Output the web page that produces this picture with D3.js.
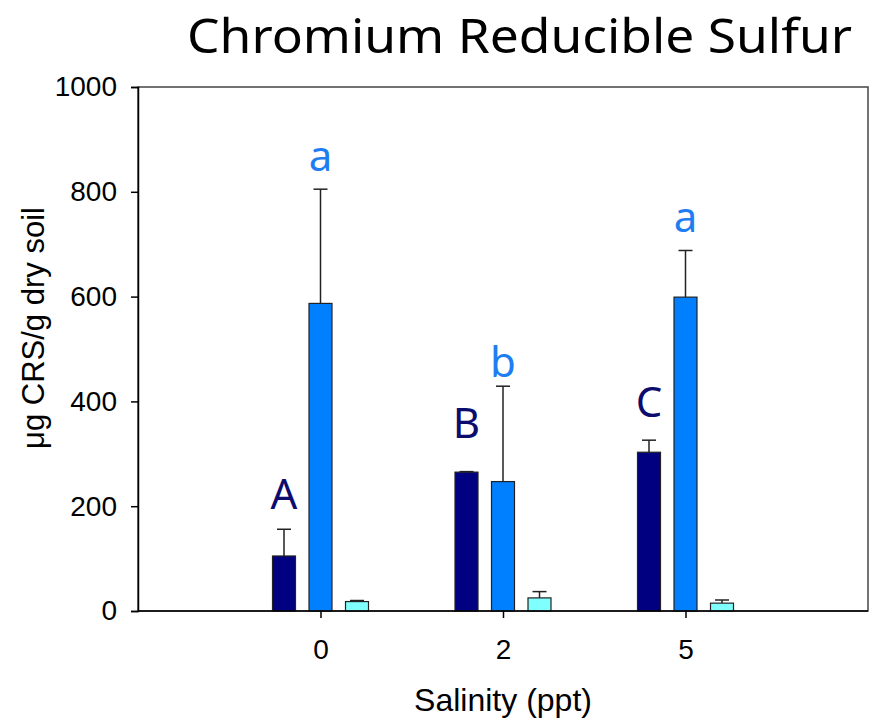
<!DOCTYPE html>
<html>
<head>
<meta charset="utf-8">
<script src="https://cdn.jsdelivr.net/npm/d3@7"></script>
<style>
  body { margin: 0; background: #fff; }
  svg { display: block; }
</style>
</head>
<body>
<svg id="chart" width="875" height="723"></svg>
<script>
// data
const salinity = ["0", "2", "5"];
const series = ["s1", "s2", "s3"];
const dark = [105, 265, 303];
const darkErr = [51, 1, 23];
const mid = [587, 247, 599];
const midErr = [218, 182, 89];
const light = [18, 25, 15];
const lightErr = [2, 12, 6];
// significance letters and the value height they sit at
const upperLetters = ["A", "B", "C"];
const upperAt = [194, 331, 370];
const lowerLetters = ["a", "b", "a"];
const lowerAt = [840, 446, 724];
const yTicks = [0, 200, 400, 600, 800, 1000];

const colors = ["#000080", "#0080ff", "#80ffff"];

const svg = d3.select("#chart");
const plotL = 138, plotR = 868, plotT = 87, plotB = 611;

const x = d3.scalePoint().domain(salinity).range([plotL, plotR]).padding(1);
const inner = d3.scaleBand().domain(series).range([-54.75, 54.75])
  .paddingInner(0.37).paddingOuter(0.185);
const y = d3.scaleLinear().domain([0, 1000]).range([plotB, plotT]);

const rows = [];
salinity.forEach((s, i) => {
  [dark, mid, light].forEach((vals, j) => {
    const errs = [darkErr, midErr, lightErr][j];
    rows.push({ cat: s, ser: series[j], v: vals[i], e: errs[i], c: colors[j] });
  });
});

// frame
svg.append("rect")
  .attr("x", plotL).attr("y", plotT)
  .attr("width", plotR - plotL).attr("height", plotB - plotT)
  .attr("fill", "none").attr("stroke", "#444").attr("stroke-width", 1.5);

// error bars (upper only)
const eb = svg.append("g").attr("stroke", "#222").attr("stroke-width", 1.5);
eb.selectAll("line.v").data(rows).join("line")
  .attr("x1", d => x(d.cat) + inner(d.ser) + inner.bandwidth() / 2)
  .attr("x2", d => x(d.cat) + inner(d.ser) + inner.bandwidth() / 2)
  .attr("y1", d => y(d.v)).attr("y2", d => y(d.v + d.e));
eb.selectAll("line.cap").data(rows).join("line")
  .attr("x1", d => x(d.cat) + inner(d.ser) + inner.bandwidth() / 2 - 7)
  .attr("x2", d => x(d.cat) + inner(d.ser) + inner.bandwidth() / 2 + 7)
  .attr("y1", d => y(d.v + d.e)).attr("y2", d => y(d.v + d.e));

// bars
svg.append("g").selectAll("rect").data(rows).join("rect")
  .attr("x", d => x(d.cat) + inner(d.ser))
  .attr("width", inner.bandwidth())
  .attr("y", d => y(d.v))
  .attr("height", d => y(0) - y(d.v))
  .attr("fill", d => d.c)
  .attr("stroke", "#222").attr("stroke-width", 1.2);

// axes
const yAxis = svg.append("g").attr("transform", `translate(${plotL},0)`)
  .call(d3.axisLeft(y).tickValues(yTicks).tickFormat(d3.format("d"))
    .tickSize(7).tickPadding(14));
const xAxis = svg.append("g").attr("transform", `translate(0,${plotB})`)
  .call(d3.axisBottom(x).tickSize(7).tickPadding(21));
[yAxis, xAxis].forEach(a => {
  a.select(".domain").attr("stroke", "#000").attr("stroke-width", 1.5);
  a.selectAll(".tick line").attr("stroke", "#000").attr("stroke-width", 1.5);
  a.selectAll(".tick text")
    .attr("font-family", "Liberation Sans, Arial, sans-serif")
    .attr("font-size", 28).attr("fill", "#000");
});
xAxis.select(".domain").remove();
svg.append("line").attr("x1", plotL).attr("x2", plotR)
  .attr("y1", plotB).attr("y2", plotB)
  .attr("stroke", "#000").attr("stroke-width", 1.5);

// letters
const letterFont = "Noto Sans, Open Sans, sans-serif";
svg.append("g").selectAll("text").data(upperLetters).join("text")
  .attr("x", (d, i) => x(salinity[i]) + inner("s1") + inner.bandwidth() / 2)
  .attr("y", (d, i) => y(upperAt[i]))
  .attr("text-anchor", "middle")
  .attr("font-family", letterFont).attr("font-size", 42)
  .attr("fill", "#0c0c6e").text(d => d);
svg.append("g").selectAll("text").data(lowerLetters).join("text")
  .attr("x", (d, i) => x(salinity[i]) + inner("s2") + inner.bandwidth() / 2)
  .attr("y", (d, i) => y(lowerAt[i]))
  .attr("text-anchor", "middle")
  .attr("font-family", letterFont).attr("font-size", 42)
  .attr("fill", "#1f7df2").text(d => d);

// titles
svg.append("text")
  .attr("x", 187).attr("y", 53)
  .attr("textLength", 665).attr("lengthAdjust", "spacingAndGlyphs")
  .attr("font-family", letterFont).attr("font-size", 48)
  .attr("fill", "#000").text("Chromium Reducible Sulfur");

svg.append("text")
  .attr("x", 503).attr("y", 711)
  .attr("text-anchor", "middle")
  .attr("font-family", "Liberation Sans, Arial, sans-serif")
  .attr("font-size", 32).attr("fill", "#000")
  .text("Salinity (ppt)");

svg.append("text")
  .attr("transform", "translate(44,328) rotate(-90)")
  .attr("text-anchor", "middle")
  .attr("font-family", "Liberation Sans, Arial, sans-serif")
  .attr("font-size", 31).attr("fill", "#000")
  .text("\u03bcg CRS/g dry soil");
</script>
</body>
</html>
